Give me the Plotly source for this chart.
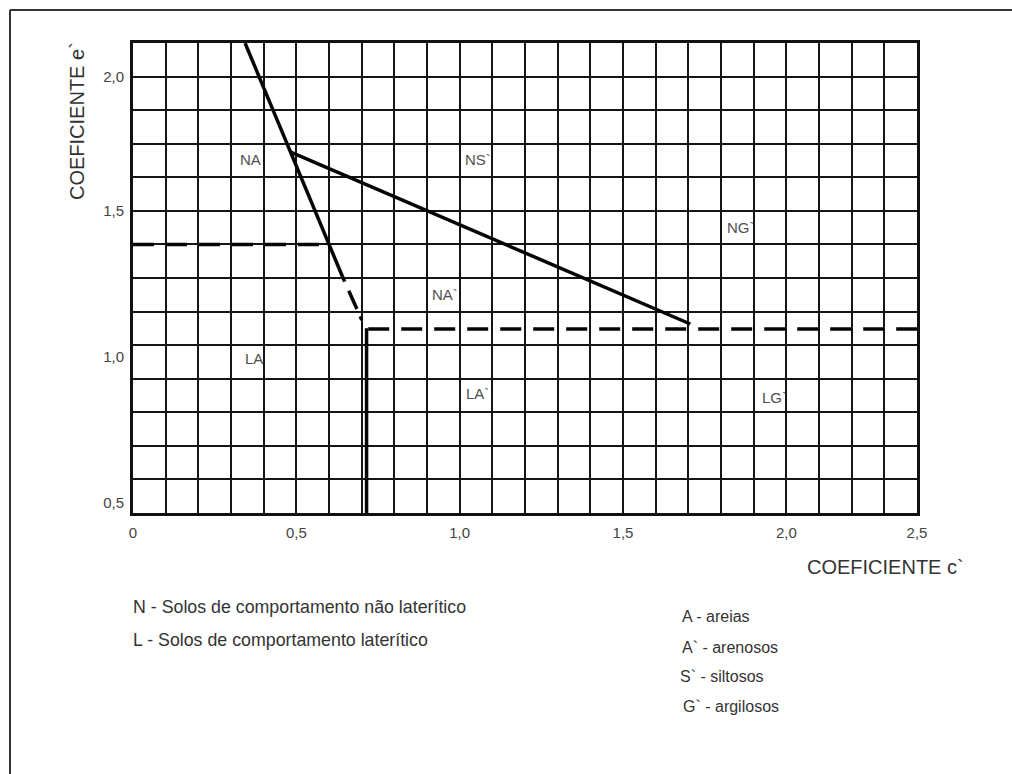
import plotly.graph_objects as go

# ---- data (MCT classification chart) ----
diag_c = [0.343, 0.483, 0.643]
diag_e = [2.0, 1.675, 1.30]
diag_dash_c = [0.643, 0.705]
diag_dash_e = [1.30, 1.165]
vert_c = [0.715, 0.715]
vert_e = [1.15, 0.6]
right_dash_c = [0.72, 2.4]
right_dash_e = [1.148, 1.148]
left_dash_c = [0.0, 0.59]
left_dash_e = [1.4, 1.4]
ns_c = [0.483, 1.706]
ns_e = [1.675, 1.163]

region_labels = ["NA", "NS`", "NG`", "NA`", "LA", "LA`", "LG`"]
region_c = [0.36, 1.055, 1.86, 0.955, 0.37, 1.055, 1.965]
region_e = [1.653, 1.653, 1.45, 1.25, 1.06, 0.955, 0.945]

x_tickvals = [0, 0.5, 1.0, 1.5, 2.0, 2.4]
x_ticktext = ["0", "0,5", "1,0", "1,5", "2,0", "2,5"]
y_tickvals = [1.9, 1.5, 1.065, 0.63]
y_ticktext = ["2,0", "1,5", "1,0", "0,5"]

legend_left = ["N - Solos de comportamento não laterítico",
               "L - Solos de comportamento laterítico"]
legend_right = ["A - areias", "A` - arenosos", "S` - siltosos", "G` - argilosos"]

W, H = 1012, 774
L, R, T, B = 133, 917, 43, 513
FONT = "Liberation Sans, Arial, sans-serif"
TXT = "#333333"


def px(x):
    return (x - L) / (R - L)


def py(y):
    return (B - y) / (B - T)


fig = go.Figure()
line_style = dict(color="#050505", width=3.5)
fig.add_trace(go.Scatter(x=diag_c, y=diag_e, mode="lines", line=line_style))
fig.add_trace(go.Scatter(x=diag_dash_c, y=diag_dash_e, mode="lines",
                         line=dict(color="#050505", width=3.5, dash="4px,10px,20px,8px")))
fig.add_trace(go.Scatter(x=vert_c, y=vert_e, mode="lines", line=line_style))
fig.add_trace(go.Scatter(x=right_dash_c, y=right_dash_e, mode="lines",
                         line=dict(color="#050505", width=3.5, dash="21px,12px")))
fig.add_trace(go.Scatter(x=left_dash_c, y=left_dash_e, mode="lines",
                         line=dict(color="#050505", width=3.5, dash="21px,12px")))
fig.add_trace(go.Scatter(x=ns_c, y=ns_e, mode="lines", line=line_style))

for lab, c, e in zip(region_labels, region_c, region_e):
    fig.add_annotation(x=c, y=e, text=lab, showarrow=False,
                       font=dict(family=FONT, size=15, color="#505050"))

# axis titles
fig.add_annotation(xref="paper", yref="paper", x=px(805), y=py(567), text="COEFICIENTE c`",
                   showarrow=False, xanchor="left", yanchor="middle",
                   font=dict(family=FONT, size=20, color=TXT))
fig.add_annotation(xref="paper", yref="paper", x=px(77), y=py(121), text="COEFICIENTE e`",
                   showarrow=False, textangle=-90, xanchor="center", yanchor="middle",
                   font=dict(family=FONT, size=20, color=TXT))

for txt, yy in zip(legend_left, [607, 640]):
    fig.add_annotation(xref="paper", yref="paper", x=px(131), y=py(yy), text=txt,
                       showarrow=False, xanchor="left", yanchor="middle",
                       font=dict(family=FONT, size=17.8, color=TXT))
for txt, yy, xx in zip(legend_right, [617, 647, 676, 706], [680, 680, 678, 681]):
    fig.add_annotation(xref="paper", yref="paper", x=px(xx), y=py(yy), text=txt,
                       showarrow=False, xanchor="left", yanchor="middle",
                       font=dict(family=FONT, size=16, color=TXT))

# outer frame (top and left edges)
fig.add_shape(type="line", xref="paper", yref="paper", x0=px(10), x1=px(1012), y0=py(10), y1=py(10),
              line=dict(color="#333333", width=2))
fig.add_shape(type="line", xref="paper", yref="paper", x0=px(10), x1=px(10), y0=py(10), y1=py(774),
              line=dict(color="#333333", width=2))

grid = dict(showgrid=True, gridcolor="#151515", gridwidth=2)
fig.update_layout(
    width=W, height=H,
    margin=dict(l=L, r=W - R, t=T, b=H - B),
    paper_bgcolor="white", plot_bgcolor="white",
    showlegend=False,
    xaxis=dict(range=[0, 2.4], tickvals=x_tickvals, ticktext=x_ticktext,
               showgrid=False, zeroline=False, showline=True, mirror=True,
               linecolor="#111111", linewidth=3,
               ticks="outside", ticklen=4, tickcolor="rgba(0,0,0,0)",
               tickfont=dict(family=FONT, size=15, color="#444444"),
               minor=dict(tick0=0, dtick=0.1, **grid)),
    yaxis=dict(range=[0.6, 2.0], tickvals=y_tickvals, ticktext=y_ticktext,
               showgrid=False, zeroline=False, showline=True, mirror=True,
               linecolor="#111111", linewidth=3,
               ticks="outside", ticklen=3, tickcolor="rgba(0,0,0,0)",
               tickfont=dict(family=FONT, size=15, color="#444444"),
               minor=dict(tick0=0, dtick=0.1, **grid)),
)

fig.write_html("out.html", config={"displayModeBar": False},
               post_script="document.body.style.margin='0';document.body.style.overflow='hidden';")
